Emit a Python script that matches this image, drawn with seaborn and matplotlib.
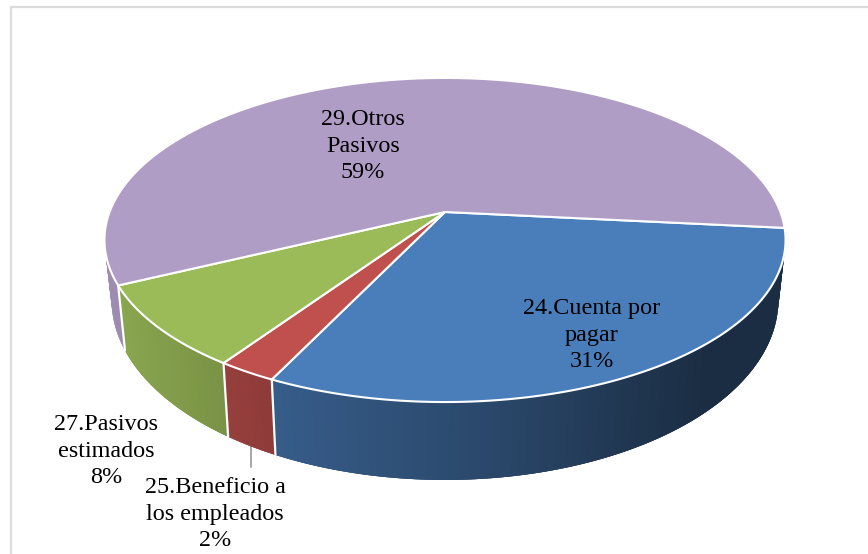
#!/usr/bin/env python3
# -*- coding: utf-8 -*-
import numpy as np
import seaborn as sns
import matplotlib.pyplot as plt
from matplotlib.collections import PolyCollection

#%% Data

categories = ['24.Cuenta por\npagar', '25.Beneficio a\nlos empleados', '27.Pasivos\nestimados', '29.Otros\nPasivos']
values = [30.6, 2.4, 8.3, 58.7]   # labels show them rounded
colors = ['#4a7ebb', '#c0504d', '#9bbb59', '#b09dc6']
label_pos = [(592, 335), (215, 514), (106, 451), (363, 146)]

#%% Pie geometry (pixels of the picture)

cx, cy = 445, 212      # apex of the pie
a, b, k = 335.4, 157.2, 0.1728   # perspective of the disc
shrink_x, shrink_y, depth = 0.979, 1.11, 57   # lower rim
start = np.deg2rad(-5.7)


def top_rim(t):
    w = 1 + k * np.sin(t)
    return a * np.cos(t) / w, b * np.sin(t) / w


def to_px(t, lower=False):
    x, y = top_rim(t)
    if lower:
        x, y = x * shrink_x, y * shrink_y - depth
    return cx + x, cy - y


def shade(x):
    return np.interp(x, [110, 230, 280, 500, 700], [.90, .78, .73, .56, .36])


#%% Plot

sns.set_theme(style='white')
plt.rcParams['font.family'] = ['Liberation Serif', 'DejaVu Serif']
palette = sns.color_palette(colors)

fig = plt.figure(figsize=(8.68, 5.54), dpi=100)
ax = fig.add_axes([11 / 868, 0, 857 / 868, 547 / 554])
ax.set_xlim(11, 868)
ax.set_ylim(554, 7)
ax.set_xticks([])
ax.set_yticks([])
for side in ['right', 'bottom']:
    ax.spines[side].set_visible(False)
for side in ['left', 'top']:
    ax.spines[side].set_color('#dcdcdc')
    ax.spines[side].set_linewidth(1.6)

edges = start - np.cumsum([0] + values) / sum(values) * 2 * np.pi

# side walls, only the front part shows. strips overlap so no seams show
for i, col in enumerate(palette):
    t = np.linspace(edges[i], max(edges[i + 1], np.deg2rad(-185)), 200)
    xt, yt = to_px(t)
    xb, yb = to_px(t, lower=True)
    polys, cols = [], []
    for j in range(len(t) - 1):
        n = min(j + 3, len(t) - 1)
        polys.append([(xt[j], yt[j]), (xt[n], yt[n]), (xb[n], yb[n]), (xb[j], yb[j])])
        cols.append(tuple(np.array(col) * shade((xb[j] + xb[j + 1]) / 2)))
    ax.add_collection(PolyCollection(polys, facecolors=cols, edgecolors='none', zorder=2))

for e in edges[1:4]:
    xt, yt = to_px(e)
    xb, yb = to_px(e, lower=True)
    ax.plot([xt, xb], [yt, yb], color='white', lw=1.6, zorder=3)

# top of the disc
for i, col in enumerate(palette):
    t = np.linspace(edges[i], edges[i + 1], 200)
    xt, yt = to_px(t)
    ax.fill(np.r_[cx, xt], np.r_[cy, yt], facecolor=col, edgecolor='white', lw=1.5, joinstyle='round', zorder=4)

# leader line of the small slice
mid = (edges[1] + edges[2]) / 2
xl, yl = to_px(mid, lower=True)
ax.plot([xl, xl], [yl, 467], color='#a6a6a6', lw=1.4, zorder=1)

for cat, val, (x, y) in zip(categories, values, label_pos):
    ax.text(x, y, f'{cat}\n{round(val)}%', ha='center', va='center', fontsize=17.4, color='black',
            linespacing=1.32, zorder=5)

plt.savefig('out.png', dpi=100)
